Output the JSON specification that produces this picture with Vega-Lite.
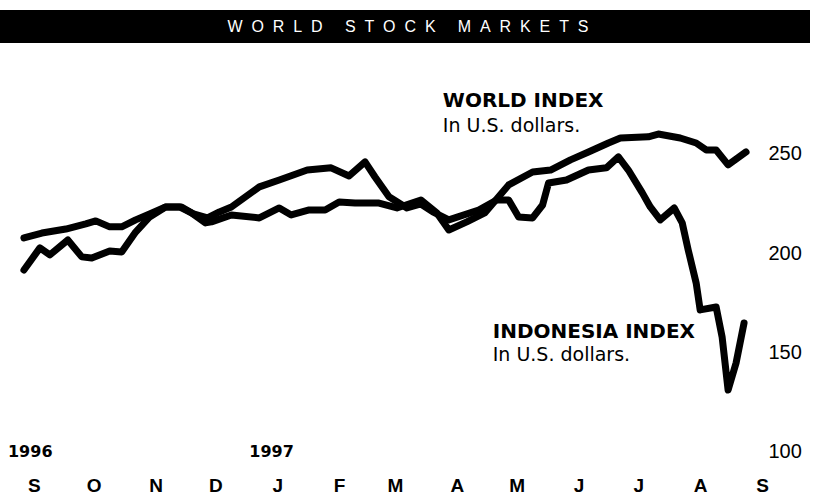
{
  "$schema": "https://vega.github.io/schema/vega-lite/v6.json",
  "background": "white",
  "padding": {"left": 0, "top": 10, "right": 0, "bottom": 0},
  "spacing": 7,
  "config": {"view": {"stroke": null}},
  "datasets": {
    "series": [
      {"series": "World", "date": "1996-08-27", "value": 207.7},
      {"series": "World", "date": "1996-09-05", "value": 210.2},
      {"series": "World", "date": "1996-09-17", "value": 212.2},
      {"series": "World", "date": "1996-09-27", "value": 214.8},
      {"series": "World", "date": "1996-10-02", "value": 216.3},
      {"series": "World", "date": "1996-10-09", "value": 213.3},
      {"series": "World", "date": "1996-10-15", "value": 213.3},
      {"series": "World", "date": "1996-10-22", "value": 216.8},
      {"series": "World", "date": "1996-10-29", "value": 219.8},
      {"series": "World", "date": "1996-11-06", "value": 223.3},
      {"series": "World", "date": "1996-11-13", "value": 223.3},
      {"series": "World", "date": "1996-11-19", "value": 220.3},
      {"series": "World", "date": "1996-11-26", "value": 215.3},
      {"series": "World", "date": "1996-11-29", "value": 215.8},
      {"series": "World", "date": "1996-12-09", "value": 219.3},
      {"series": "World", "date": "1996-12-23", "value": 217.8},
      {"series": "World", "date": "1997-01-02", "value": 222.8},
      {"series": "World", "date": "1997-01-08", "value": 219.3},
      {"series": "World", "date": "1997-01-17", "value": 221.8},
      {"series": "World", "date": "1997-01-25", "value": 221.8},
      {"series": "World", "date": "1997-02-01", "value": 225.8},
      {"series": "World", "date": "1997-02-09", "value": 225.3},
      {"series": "World", "date": "1997-02-21", "value": 225.3},
      {"series": "World", "date": "1997-03-02", "value": 222.8},
      {"series": "World", "date": "1997-03-14", "value": 226.8},
      {"series": "World", "date": "1997-03-22", "value": 220.3},
      {"series": "World", "date": "1997-03-28", "value": 211.7},
      {"series": "World", "date": "1997-04-06", "value": 215.8},
      {"series": "World", "date": "1997-04-15", "value": 220.3},
      {"series": "World", "date": "1997-04-27", "value": 234.4},
      {"series": "World", "date": "1997-05-09", "value": 240.9},
      {"series": "World", "date": "1997-05-18", "value": 241.9},
      {"series": "World", "date": "1997-05-28", "value": 247.0},
      {"series": "World", "date": "1997-06-06", "value": 251.0},
      {"series": "World", "date": "1997-06-16", "value": 255.5},
      {"series": "World", "date": "1997-06-22", "value": 258.0},
      {"series": "World", "date": "1997-07-06", "value": 258.6},
      {"series": "World", "date": "1997-07-11", "value": 260.0},
      {"series": "World", "date": "1997-07-22", "value": 258.0},
      {"series": "World", "date": "1997-07-30", "value": 255.5},
      {"series": "World", "date": "1997-08-04", "value": 252.0},
      {"series": "World", "date": "1997-08-09", "value": 252.0},
      {"series": "World", "date": "1997-08-15", "value": 244.5},
      {"series": "World", "date": "1997-08-24", "value": 251.0},
      {"series": "Indonesia", "date": "1996-08-27", "value": 191.6},
      {"series": "Indonesia", "date": "1996-09-04", "value": 202.7},
      {"series": "Indonesia", "date": "1996-09-09", "value": 199.2},
      {"series": "Indonesia", "date": "1996-09-18", "value": 206.7},
      {"series": "Indonesia", "date": "1996-09-25", "value": 198.2},
      {"series": "Indonesia", "date": "1996-09-30", "value": 197.6},
      {"series": "Indonesia", "date": "1996-10-09", "value": 201.2},
      {"series": "Indonesia", "date": "1996-10-15", "value": 200.7},
      {"series": "Indonesia", "date": "1996-10-22", "value": 210.7},
      {"series": "Indonesia", "date": "1996-10-29", "value": 218.3},
      {"series": "Indonesia", "date": "1996-11-06", "value": 223.3},
      {"series": "Indonesia", "date": "1996-11-14", "value": 223.3},
      {"series": "Indonesia", "date": "1996-11-20", "value": 219.8},
      {"series": "Indonesia", "date": "1996-11-27", "value": 217.8},
      {"series": "Indonesia", "date": "1996-12-03", "value": 220.8},
      {"series": "Indonesia", "date": "1996-12-09", "value": 223.3},
      {"series": "Indonesia", "date": "1996-12-23", "value": 233.4},
      {"series": "Indonesia", "date": "1997-01-02", "value": 236.9},
      {"series": "Indonesia", "date": "1997-01-16", "value": 241.9},
      {"series": "Indonesia", "date": "1997-01-28", "value": 243.0},
      {"series": "Indonesia", "date": "1997-02-06", "value": 238.9},
      {"series": "Indonesia", "date": "1997-02-14", "value": 246.0},
      {"series": "Indonesia", "date": "1997-02-19", "value": 238.4},
      {"series": "Indonesia", "date": "1997-02-26", "value": 228.4},
      {"series": "Indonesia", "date": "1997-03-07", "value": 222.8},
      {"series": "Indonesia", "date": "1997-03-14", "value": 224.8},
      {"series": "Indonesia", "date": "1997-03-20", "value": 220.8},
      {"series": "Indonesia", "date": "1997-03-28", "value": 216.8},
      {"series": "Indonesia", "date": "1997-04-12", "value": 221.8},
      {"series": "Indonesia", "date": "1997-04-21", "value": 226.8},
      {"series": "Indonesia", "date": "1997-04-27", "value": 226.8},
      {"series": "Indonesia", "date": "1997-05-02", "value": 218.3},
      {"series": "Indonesia", "date": "1997-05-09", "value": 217.8},
      {"series": "Indonesia", "date": "1997-05-14", "value": 224.3},
      {"series": "Indonesia", "date": "1997-05-17", "value": 235.4},
      {"series": "Indonesia", "date": "1997-05-26", "value": 236.9},
      {"series": "Indonesia", "date": "1997-06-06", "value": 241.9},
      {"series": "Indonesia", "date": "1997-06-15", "value": 243.0},
      {"series": "Indonesia", "date": "1997-06-21", "value": 248.5},
      {"series": "Indonesia", "date": "1997-06-26", "value": 241.9},
      {"series": "Indonesia", "date": "1997-07-03", "value": 230.4},
      {"series": "Indonesia", "date": "1997-07-07", "value": 223.3},
      {"series": "Indonesia", "date": "1997-07-12", "value": 216.8},
      {"series": "Indonesia", "date": "1997-07-19", "value": 222.8},
      {"series": "Indonesia", "date": "1997-07-23", "value": 215.3},
      {"series": "Indonesia", "date": "1997-07-26", "value": 201.7},
      {"series": "Indonesia", "date": "1997-07-30", "value": 185.0},
      {"series": "Indonesia", "date": "1997-08-01", "value": 171.5},
      {"series": "Indonesia", "date": "1997-08-09", "value": 173.0},
      {"series": "Indonesia", "date": "1997-08-12", "value": 157.9},
      {"series": "Indonesia", "date": "1997-08-15", "value": 131.2},
      {"series": "Indonesia", "date": "1997-08-19", "value": 144.8},
      {"series": "Indonesia", "date": "1997-08-23", "value": 164.9}
    ],
    "heads": [
      {"date": "1997-03-25", "value": 276.7, "text": "WORLD INDEX"},
      {"date": "1997-04-19", "value": 160.4, "text": "INDONESIA INDEX"}
    ],
    "subs": [
      {"date": "1997-03-25", "value": 264.1, "text": "In U.S. dollars."},
      {"date": "1997-04-19", "value": 148.8, "text": "In U.S. dollars."}
    ],
    "years": [
      {"date": "1996-08-19", "value": 100, "text": "1996"},
      {"date": "1996-12-18", "value": 100, "text": "1997"}
    ],
    "title": [{"text": "W\u00a0\u00a0O\u00a0\u00a0R\u00a0\u00a0L\u00a0\u00a0D\u00a0\u00a0\u00a0\u00a0\u00a0S\u00a0\u00a0T\u00a0\u00a0O\u00a0\u00a0C\u00a0\u00a0K\u00a0\u00a0\u00a0\u00a0\u00a0M\u00a0\u00a0A\u00a0\u00a0R\u00a0\u00a0K\u00a0\u00a0E\u00a0\u00a0T\u00a0\u00a0S"}]
  },
  "vconcat": [
    {
      "width": 810,
      "height": 33,
      "view": {"fill": "black", "stroke": null},
      "data": {"name": "title"},
      "mark": {"type": "text", "color": "white", "font": "Liberation Sans", "fontSize": 16, "align": "center", "baseline": "middle", "dx": 3},
      "encoding": {"text": {"field": "text"}}
    },
    {
      "width": 762,
      "height": 420,
      "encoding": {
        "x": {
          "field": "date", "type": "temporal",
          "scale": {"type": "utc", "domain": [{"year": 1996, "month": 8, "date": 15, "utc": true}, {"year": 1997, "month": 9, "date": 1, "utc": true}]},
          "axis": {
            "title": null, "domain": false, "ticks": false, "grid": false,
            "values": [
              {"year": 1996, "month": 9, "date": 1, "utc": true},
              {"year": 1996, "month": 10, "date": 1, "utc": true},
              {"year": 1996, "month": 11, "date": 1, "utc": true},
              {"year": 1996, "month": 12, "date": 1, "utc": true},
              {"year": 1997, "month": 1, "date": 1, "utc": true},
              {"year": 1997, "month": 2, "date": 1, "utc": true},
              {"year": 1997, "month": 3, "date": 1, "utc": true},
              {"year": 1997, "month": 4, "date": 1, "utc": true},
              {"year": 1997, "month": 5, "date": 1, "utc": true},
              {"year": 1997, "month": 6, "date": 1, "utc": true},
              {"year": 1997, "month": 7, "date": 1, "utc": true},
              {"year": 1997, "month": 8, "date": 1, "utc": true},
              {"year": 1997, "month": 9, "date": 1, "utc": true}
            ],
            "labelExpr": "substring(utcFormat(datum.value, '%B'), 0, 1)",
            "labelFont": "Liberation Sans", "labelFontSize": 19, "labelFontWeight": "bold",
            "labelColor": "black", "labelPadding": 6, "labelFlush": false, "labelOverlap": false
          }
        },
        "y": {
          "field": "value", "type": "quantitative",
          "scale": {"domain": [90.94, 302.3], "nice": false, "zero": false},
          "axis": {
            "orient": "right", "title": null, "domain": false, "ticks": false, "grid": false,
            "values": [100, 150, 200, 250],
            "labelFont": "Liberation Sans", "labelFontSize": 20, "labelColor": "black",
            "labelPadding": 6, "labelAlign": "left", "labelBaseline": "middle"
          }
        }
      },
      "layer": [
        {
          "data": {"name": "series"},
          "mark": {"type": "line", "color": "black", "strokeWidth": 7, "strokeJoin": "round", "strokeCap": "round"},
          "encoding": {"detail": {"field": "series"}}
        },
        {
          "data": {"name": "heads"},
          "mark": {"type": "text", "align": "left", "baseline": "middle", "font": "DejaVu Sans", "fontWeight": "bold", "fontSize": 20, "color": "black"},
          "encoding": {"text": {"field": "text"}}
        },
        {
          "data": {"name": "subs"},
          "mark": {"type": "text", "align": "left", "baseline": "middle", "font": "DejaVu Sans", "fontSize": 19, "color": "black"},
          "encoding": {"text": {"field": "text"}}
        },
        {
          "data": {"name": "years"},
          "mark": {"type": "text", "align": "left", "baseline": "middle", "font": "DejaVu Sans", "fontWeight": "bold", "fontSize": 16, "color": "black"},
          "encoding": {"text": {"field": "text"}}
        }
      ]
    }
  ]
}
